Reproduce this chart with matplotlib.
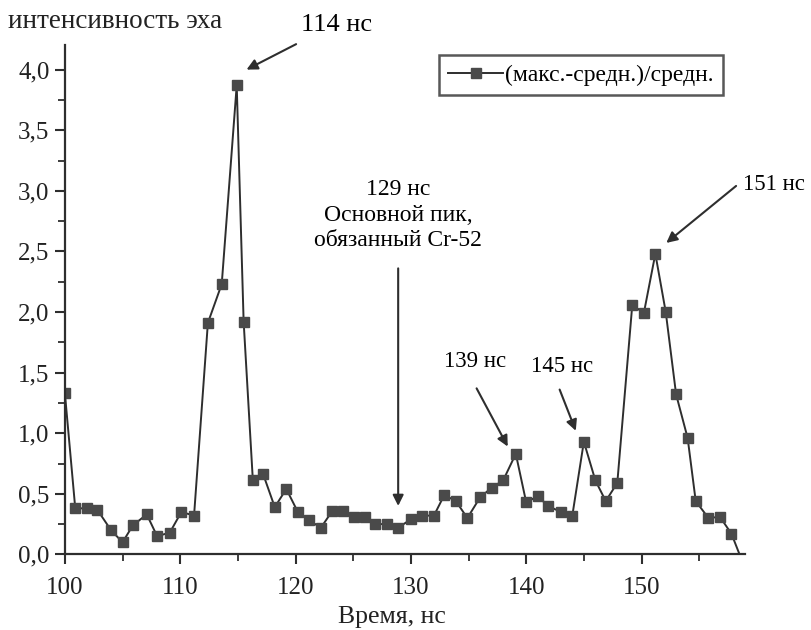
import matplotlib
matplotlib.use('Agg')
import matplotlib.pyplot as plt
from matplotlib.ticker import MultipleLocator, FuncFormatter

plt.rcParams['font.family'] = ['Liberation Serif', 'DejaVu Serif']

# time, ns
time_ns = [100.0, 100.9, 101.9, 102.8, 104.0, 105.0, 105.9, 107.1, 108.0, 109.1,
           110.1, 111.2, 112.4, 113.6, 114.9, 115.5, 116.3, 117.2, 118.2, 119.2,
           120.2, 121.2, 122.2, 123.2, 124.1, 125.1, 126.0, 126.9, 127.9, 128.9,
           130.0, 131.0, 132.0, 132.9, 133.9, 134.9, 136.0, 137.0, 138.0, 139.1,
           140.0, 141.0, 141.9, 143.0, 144.0, 145.0, 146.0, 146.9, 147.9, 149.2,
           150.2, 151.2, 152.1, 153.0, 154.0, 154.7, 155.8, 156.8, 157.8, 158.5]
# (max - mean) / mean
ratio = [1.33, 0.38, 0.38, 0.37, 0.20, 0.10, 0.24, 0.33, 0.15, 0.18,
         0.35, 0.32, 1.91, 2.23, 3.87, 1.92, 0.61, 0.66, 0.39, 0.54,
         0.35, 0.28, 0.22, 0.36, 0.36, 0.31, 0.31, 0.25, 0.25, 0.22,
         0.29, 0.32, 0.32, 0.49, 0.44, 0.30, 0.47, 0.55, 0.61, 0.83,
         0.43, 0.48, 0.40, 0.35, 0.32, 0.93, 0.61, 0.44, 0.59, 2.06,
         1.99, 2.48, 2.00, 1.32, 0.96, 0.44, 0.30, 0.31, 0.17, 0.0]

series_label = '(макс.-средн.)/средн.'
ylabel = 'интенсивность эха'
xlabel = 'Время, нс'

ink = '#2e2e2e'

fig = plt.figure(figsize=(8.11, 6.30), dpi=100)
ax = fig.add_axes([0.080, 0.120, 0.839, 0.808])

ax.plot(time_ns, ratio, color=ink, lw=1.4, marker='s', markersize=7.5,
        markerfacecolor='#4a4a4a', markeredgecolor='#4a4a4a',
        markevery=list(range(len(time_ns) - 1)), label=series_label)

ax.set_xlim(100, 159)
ax.set_ylim(0, 4.2)

for side in ['top', 'right']:
    ax.spines[side].set_visible(False)
for side in ['left', 'bottom']:
    ax.spines[side].set_linewidth(1.6)
    ax.spines[side].set_color(ink)

ax.xaxis.set_major_locator(MultipleLocator(10))
ax.xaxis.set_minor_locator(MultipleLocator(5))
ax.yaxis.set_major_locator(MultipleLocator(0.5))
ax.yaxis.set_minor_locator(MultipleLocator(0.25))
ax.yaxis.set_major_formatter(FuncFormatter(lambda v, p: f'{v:.1f}'.replace('.', ',')))
ax.tick_params(which='major', direction='out', length=7, width=1.5, color=ink,
               labelsize=18, labelcolor='#222222')
ax.tick_params(axis='x', which='major', pad=9)
ax.tick_params(axis='y', which='major', pad=4)
ax.tick_params(which='minor', direction='out', length=5, width=1.3, color=ink)

# labels
fig.text(8 / 811, 1 - 22 / 630, ylabel, fontsize=19.5, color='#222222',
         ha='left', va='center')
fig.text(392 / 811, 1 - 617 / 630, xlabel, fontsize=18.5, color='#222222',
         ha='center', va='center')

# legend
leg = ax.legend(loc='upper right', bbox_to_anchor=(723 / 811, 1 - 55 / 630),
                bbox_transform=fig.transFigure, fontsize=17, frameon=True,
                fancybox=False, handlelength=2.3, handletextpad=0.1,
                borderpad=0.4, borderaxespad=0)
leg.get_frame().set_edgecolor(ink)
leg.get_frame().set_linewidth(1.8)

arrow = dict(arrowstyle='-|>', color=ink, lw=1.5, mutation_scale=16,
             shrinkA=0, shrinkB=0)

# peak annotations
ax.text(123.6, 4.37, '114 нс', fontsize=19, ha='center', va='center',
        clip_on=False)
ax.annotate('', xy=(115.75, 4.00), xytext=(120.05, 4.21), arrowprops=arrow,
            annotation_clip=False)

ax.text(128.9, 2.80, '129 нс\nОсновной пик,\nобязанный Cr-52', fontsize=17,
        ha='center', va='center', linespacing=1.3)
ax.annotate('', xy=(128.9, 0.40), xytext=(128.9, 2.36), arrowprops=arrow)

ax.text(135.6, 1.59, '139 нс', fontsize=16.5, ha='center', va='center')
ax.annotate('', xy=(138.4, 0.89), xytext=(135.7, 1.37), arrowprops=arrow)

ax.text(143.1, 1.55, '145 нс', fontsize=16.5, ha='center', va='center')
ax.annotate('', xy=(144.3, 1.02), xytext=(142.9, 1.36), arrowprops=arrow)

ax.text(161.5, 3.05, '151 нс', fontsize=16.5, ha='center', va='center',
        clip_on=False)
ax.annotate('', xy=(152.15, 2.57), xytext=(158.2, 3.04), arrowprops=arrow,
            annotation_clip=False)

fig.savefig('out.png', dpi=100)
